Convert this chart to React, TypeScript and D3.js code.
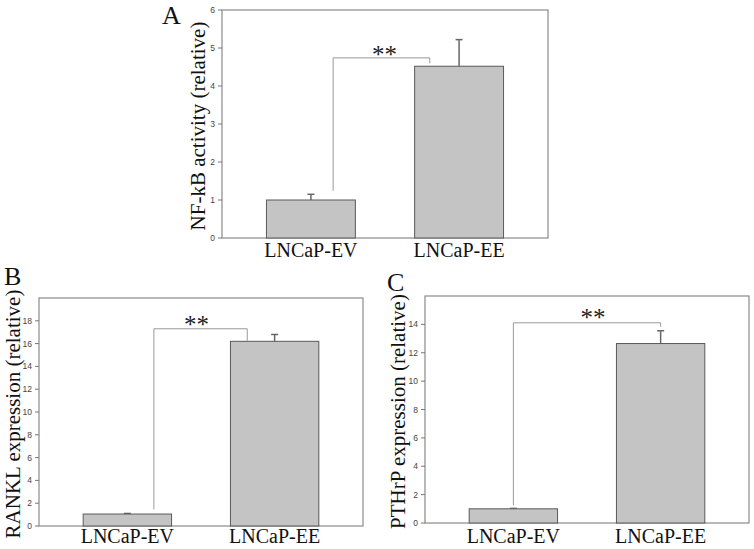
import { scaleBand, scaleLinear } from "d3";

const categories = ["LNCaP-EV", "LNCaP-EE"];

const nfkbValues = [1.0, 4.52];
const nfkbErrors = [0.15, 0.7];
const nfkbTicks = [0, 1, 2, 3, 4, 5, 6];

const ranklValues = [1.05, 16.2];
const ranklErrors = [0.05, 0.6];
const ranklTicks = [0, 2, 4, 6, 8, 10, 12, 14, 16, 18];

const pthrpValues = [1.0, 12.65];
const pthrpErrors = [0.03, 0.9];
const pthrpTicks = [0, 2, 4, 6, 8, 10, 12, 14];

// bracket: [left foot, top, right foot] (data units)
const nfkbBracket = [1.24, 4.74, 4.6];
const ranklBracket = [1.46, 17.3, 16.25];
const pthrpBracket = [1.25, 14.11, 13.83];

const SERIF = "'Liberation Serif', 'Times New Roman', serif";
const SANS = "'Liberation Sans', Arial, sans-serif";

type PanelProps = {
  letter: string;
  letterPos: [number, number];
  yLabel: string;
  yLabelX: number;
  frame: { left: number; right: number; top: number; bottom: number };
  yMax: number;
  ticks: number[];
  values: number[];
  errors: number[];
  bracket: number[];
  bracketAt: [number, number]; // fraction across each bar where bracket foot sits
  starsY: number;
  starsDx: number;
  xLabelY: number;
};

function Panel(p: PanelProps) {
  const { frame } = p;
  const x = scaleBand<string>()
    .domain(categories)
    .range([frame.left, frame.right])
    .paddingInner(0.4)
    .paddingOuter(0.3);
  const y = scaleLinear().domain([0, p.yMax]).range([frame.bottom, frame.top]);
  const bw = x.bandwidth();
  const cx = (c: string) => (x(c) ?? 0) + bw / 2;
  const x1 = (x(categories[0]) ?? 0) + bw * p.bracketAt[0];
  const x2 = (x(categories[1]) ?? 0) + bw * p.bracketAt[1];

  return (
    <g>
      <text x={p.letterPos[0]} y={p.letterPos[1]} fontFamily={SERIF} fontSize={26} fill="#111">
        {p.letter}
      </text>
      <text
        transform={`translate(${p.yLabelX},${(frame.top + frame.bottom) / 2 + 2}) rotate(-90)`}
        textAnchor="middle"
        fontFamily={SERIF}
        fontSize={21}
        fill="#111"
      >
        {p.yLabel}
      </text>
      <rect
        x={frame.left}
        y={frame.top}
        width={frame.right - frame.left}
        height={frame.bottom - frame.top}
        fill="none"
        stroke="#8a8a8a"
        strokeWidth={1.2}
      />
      {p.ticks.map((t) => (
        <g key={t}>
          <line x1={frame.left - 4} x2={frame.left} y1={y(t)} y2={y(t)} stroke="#777" strokeWidth={1} />
          <text
            x={frame.left - 7}
            y={y(t) + 3}
            textAnchor="end"
            fontFamily={SANS}
            fontSize={8.5}
            fill="#444"
          >
            {t}
          </text>
        </g>
      ))}
      {categories.map((c, i) => (
        <g key={c}>
          <line
            x1={cx(c)}
            x2={cx(c)}
            y1={y(p.values[i])}
            y2={y(p.values[i] + p.errors[i])}
            stroke="#666"
            strokeWidth={1.5}
          />
          <line
            x1={cx(c) - 3.5}
            x2={cx(c) + 3.5}
            y1={y(p.values[i] + p.errors[i])}
            y2={y(p.values[i] + p.errors[i])}
            stroke="#666"
            strokeWidth={1.5}
          />
          <rect
            x={x(c)}
            y={y(p.values[i])}
            width={bw}
            height={frame.bottom - y(p.values[i])}
            fill="#c4c4c4"
            stroke="#5a5a5a"
            strokeWidth={1}
          />
          <text
            x={cx(c)}
            y={p.xLabelY}
            textAnchor="middle"
            fontFamily={SERIF}
            fontSize={20}
            fill="#111"
          >
            {c}
          </text>
        </g>
      ))}
      <polyline
        points={`${x1},${y(p.bracket[0])} ${x1},${y(p.bracket[1])} ${x2},${y(p.bracket[1])} ${x2},${y(p.bracket[2])}`}
        fill="none"
        stroke="#999"
        strokeWidth={1}
      />
      <text
        x={(x1 + x2) / 2 + p.starsDx}
        y={y(p.starsY) + 13}
        textAnchor="middle"
        fontFamily={SERIF}
        fontSize={25}
        fill="#222"
      >
        **
      </text>
    </g>
  );
}

export default function App() {
  return (
    <svg
      width={754}
      height={549}
      style={{ position: "absolute", left: 0, top: 0, background: "#fff" }}
    >
      <Panel
        letter="A"
        letterPos={[162, 24]}
        yLabel="NF-kB activity (relative)"
        yLabelX={205}
        frame={{ left: 222, right: 548, top: 10, bottom: 238 }}
        yMax={6}
        ticks={nfkbTicks}
        values={nfkbValues}
        errors={nfkbErrors}
        bracket={nfkbBracket}
        bracketAt={[0.75, 0.17]}
        starsY={4.95}
        starsDx={3}
        xLabelY={257}
      />
      <Panel
        letter="B"
        letterPos={[4, 285]}
        yLabel="RANKL expression (relative)"
        yLabelX={20}
        frame={{ left: 39, right: 363, top: 298, bottom: 526 }}
        yMax={20}
        ticks={ranklTicks}
        values={ranklValues}
        errors={ranklErrors}
        bracket={ranklBracket}
        bracketAt={[0.8, 0.19]}
        starsY={18.1}
        starsDx={-4}
        xLabelY={543}
      />
      <Panel
        letter="C"
        letterPos={[387, 291]}
        yLabel="PTHrP expression (relative)"
        yLabelX={405}
        frame={{ left: 425, right: 749, top: 296, bottom: 523 }}
        yMax={16}
        ticks={pthrpTicks}
        values={pthrpValues}
        errors={pthrpErrors}
        bracket={pthrpBracket}
        bracketAt={[0.5, 0.5]}
        starsY={14.8}
        starsDx={6}
        xLabelY={543}
      />
    </svg>
  );
}
